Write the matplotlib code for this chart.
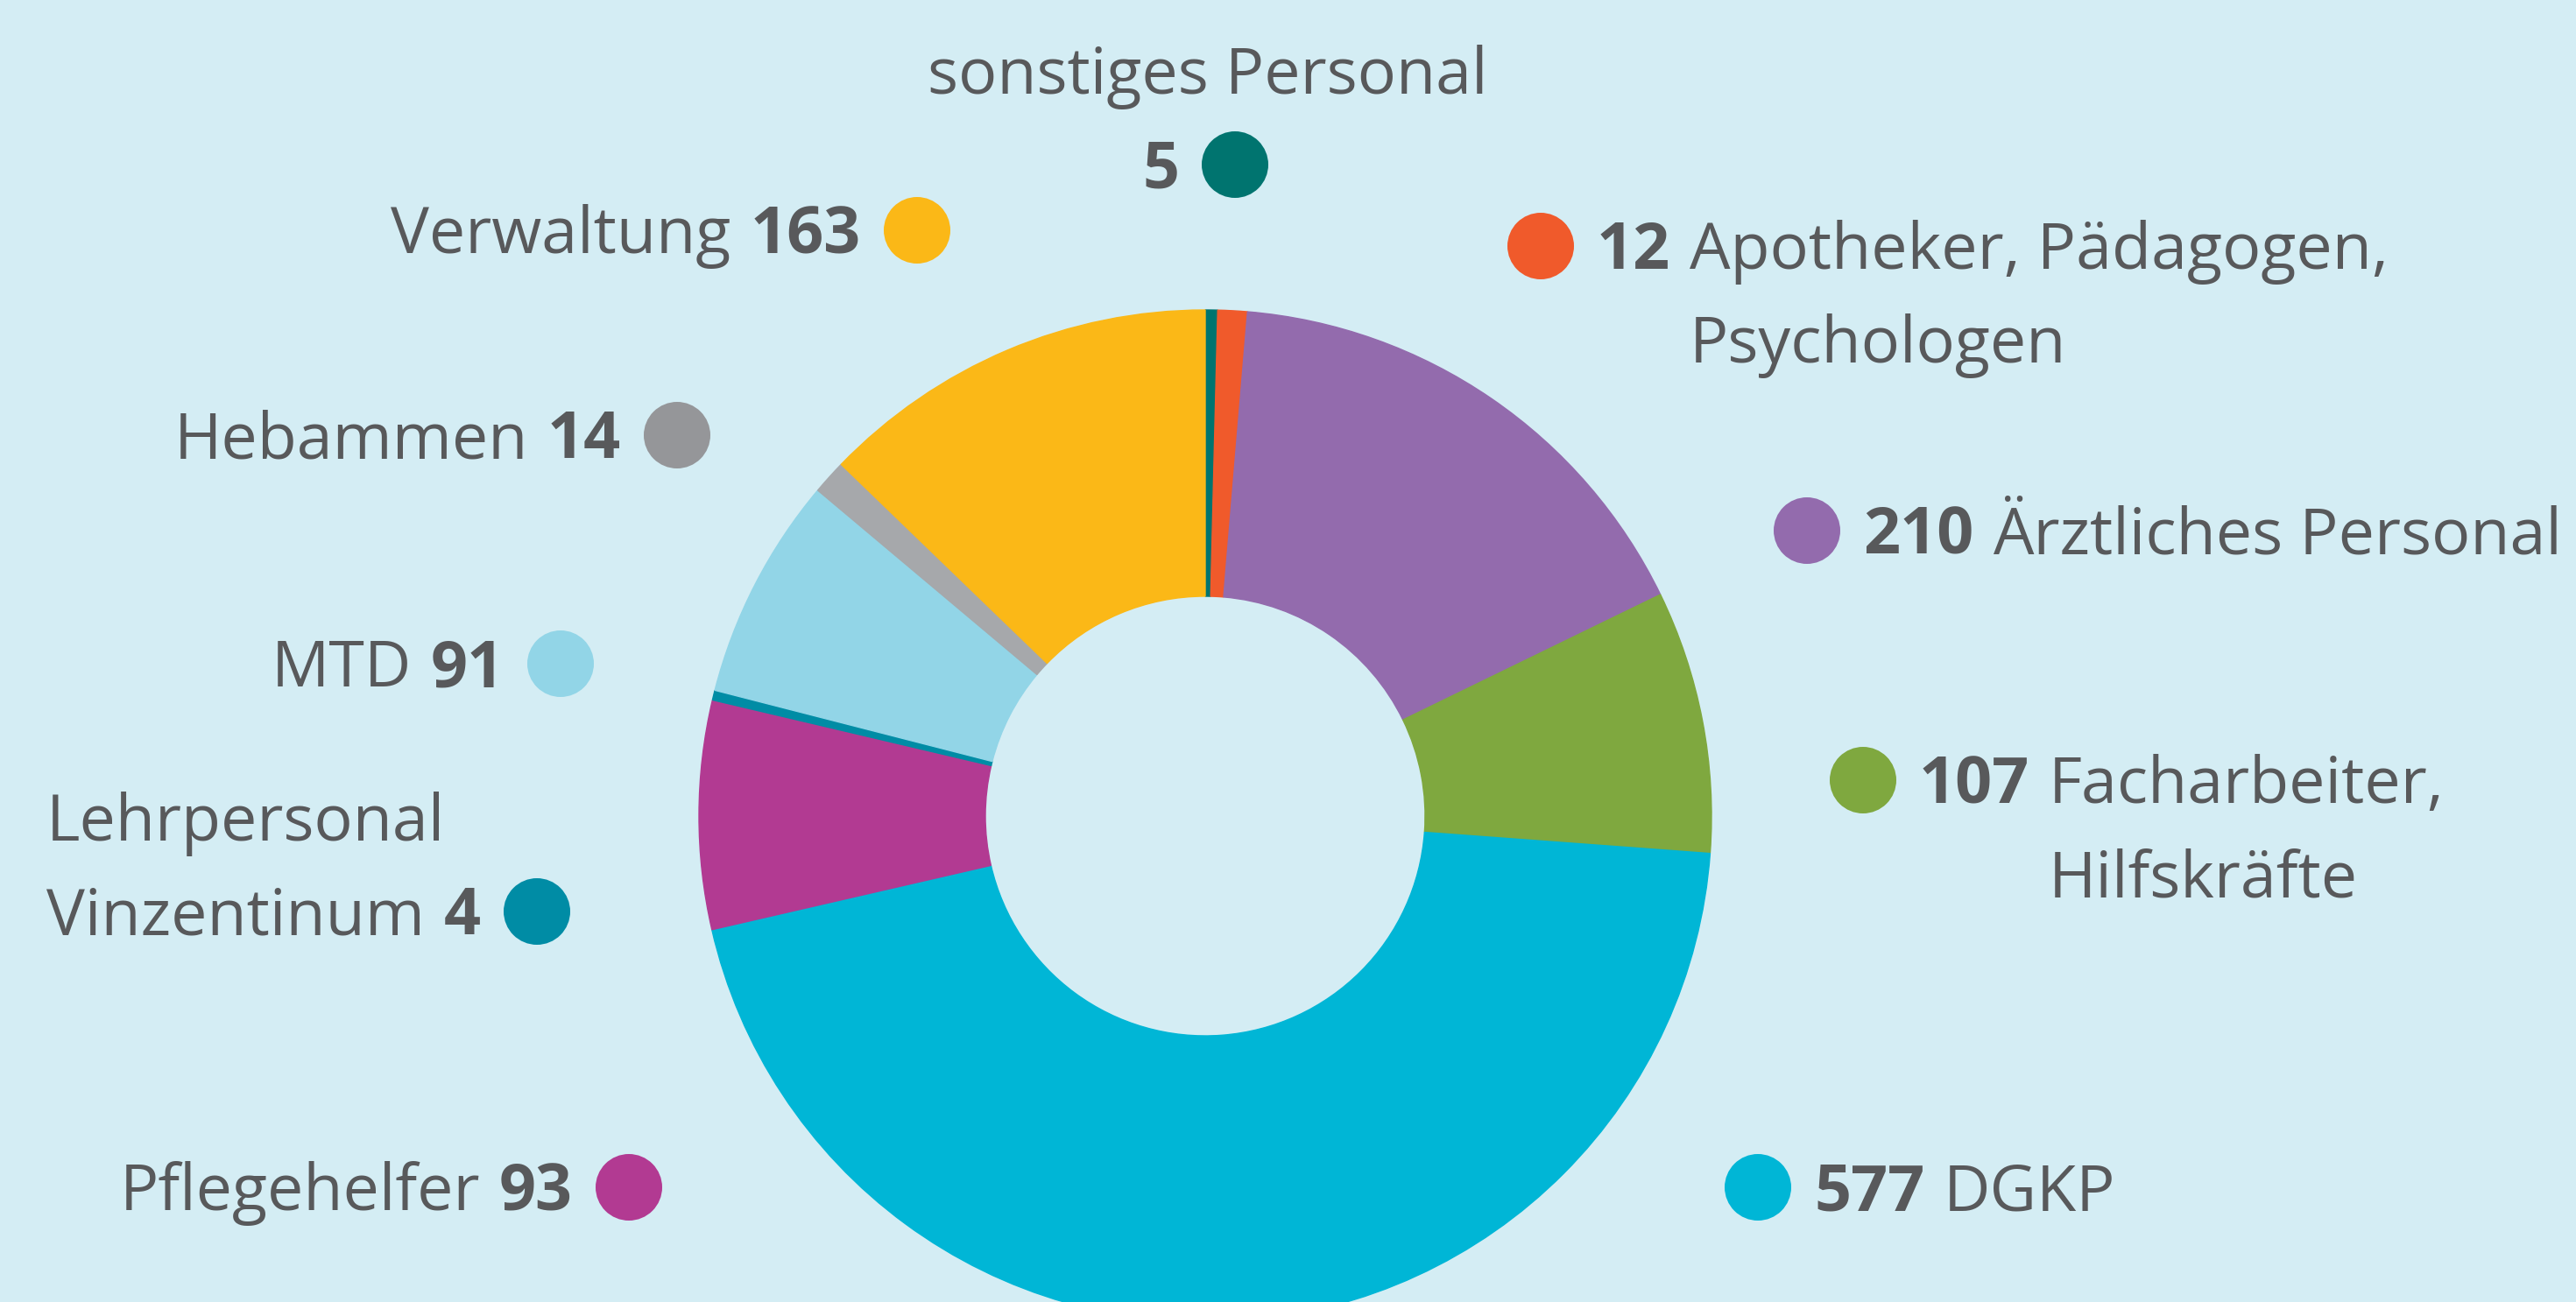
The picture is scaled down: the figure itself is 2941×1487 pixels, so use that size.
import matplotlib.pyplot as plt
from matplotlib.patches import Circle

# Personalstand nach Berufsgruppen
categories = ["sonstiges Personal", "Apotheker, Pädagogen,\nPsychologen", "Ärztliches Personal",
              "Facharbeiter,\nHilfskräfte", "DGKP", "Pflegehelfer", "Lehrpersonal\nVinzentinum",
              "MTD", "Hebammen", "Verwaltung"]
values = [5, 12, 210, 107, 577, 93, 4, 91, 14, 163]
colors = ["#00746F", "#F05A2B", "#936BAD", "#7FA83F", "#00B6D6",
          "#B23A92", "#008CA5", "#92D5E7", "#A6A8AB", "#FBB817"]
dot_colors = ["#00746F", "#F05A2B", "#936BAD", "#7FA83F", "#00B6D6",
              "#B23A92", "#008CA5", "#92D5E7", "#959699", "#FBB817"]

# label layout (pixel positions of the dots, side of the text)
dot_pos = [(1410, 188), (1759, 281), (2063, 606), (2127, 891), (2007, 1356),
           (718, 1356), (613, 1041), (640, 758), (773, 497), (1047, 263)]
sides = ["top", "right", "right", "right", "right", "left", "left", "left", "left", "left"]

bg = "#D4EDF4"
txt_col = "#58595B"
W, H = 2941, 1487
fs = 53
fs_px = fs * 100 / 72
cap = 0.714 * fs_px
line_h = 107
gap_dot = 64
space = 22

plt.rcParams['font.family'] = ['Open Sans', 'DejaVu Sans']

fig = plt.figure(figsize=(W / 100, H / 100), dpi=100, facecolor=bg)
ax = fig.add_axes([0, 0, 1, 1])
ax.set_facecolor(bg)

wedges, _ = ax.pie(values, colors=colors, startangle=-90, counterclock=True,
                   radius=578, center=(1376, 932),
                   wedgeprops=dict(width=327, linewidth=1))
for w, c in zip(wedges, colors):
    w.set_edgecolor(c)

ax.set_xlim(0, W)
ax.set_ylim(H, 0)
ax.set_aspect('equal')
ax.axis('off')

r = fig.canvas.get_renderer()


def wid(t):
    return t.get_window_extent(renderer=r).width


for name, val, dc, (dx, dy), side in zip(categories, values, dot_colors, dot_pos, sides):
    ax.add_patch(Circle((dx, dy), 38, color=dc, lw=0))
    base = dy + cap / 2
    lines = name.split("\n")
    if side == "right":
        x0 = dx + gap_dot
        num = ax.text(x0, base, str(val), fontsize=fs, fontweight='bold', color=txt_col,
                      ha='left', va='baseline')
        x1 = x0 + wid(num) + space
        for k, ln in enumerate(lines):
            ax.text(x1, base + k * line_h, ln, fontsize=fs, color=txt_col,
                    ha='left', va='baseline')
    elif side == "left":
        x0 = dx - gap_dot
        num = ax.text(x0, base, str(val), fontsize=fs, fontweight='bold', color=txt_col,
                      ha='right', va='baseline')
        x1 = x0 - wid(num) - space
        last = ax.text(x1, base, lines[-1], fontsize=fs, color=txt_col,
                       ha='right', va='baseline')
        xl = x1 - wid(last)
        for k, ln in enumerate(reversed(lines[:-1])):
            ax.text(xl, base - (k + 1) * line_h, ln, fontsize=fs, color=txt_col,
                    ha='left', va='baseline')
    else:
        x0 = dx - gap_dot
        ax.text(x0, base, str(val), fontsize=fs, fontweight='bold', color=txt_col,
                ha='right', va='baseline')
        ax.text(1379, base - line_h, name, fontsize=fs, color=txt_col,
                ha='center', va='baseline')

fig.savefig("out.png", dpi=100, facecolor=bg)
